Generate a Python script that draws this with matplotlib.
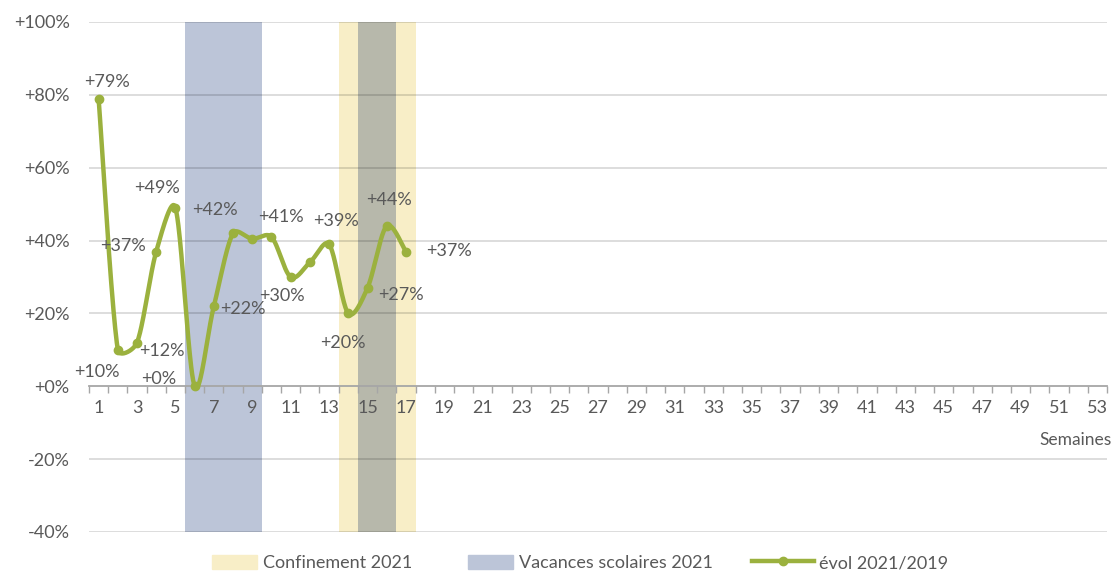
import numpy as np
from matplotlib import pyplot as plt
from matplotlib.patches import Patch, Rectangle
from matplotlib.lines import Line2D
from matplotlib.legend_handler import HandlerPatch

weeks = list(range(1, 54))
evol_weeks = list(range(1, 18))
evol = [79, 10, 12, 37, 49, 0, 22, 42, 40.5, 41, 30, 34, 39, 20, 27, 44, 37]
labelled = [1, 2, 3, 4, 5, 6, 7, 8, 10, 11, 13, 14, 15, 16, 17]
confinement_weeks = [14, 15, 16, 17]
vacances_weeks = [6, 7, 8, 9, 15, 16]
yticks = [-40, -20, 0, 20, 40, 60, 80, 100]

# label offsets (points) per labelled week
offsets = {1: (6, 12), 2: (-15, -16), 3: (18, -6), 4: (-24, 4), 5: (-13, 14),
           6: (-26, 5), 7: (21, -2), 8: (-13, 17), 10: (7, 14), 11: (-6, -14),
           13: (5, 17), 14: (-4, -21), 15: (24, -5), 16: (2, 19), 17: (31, 0)}

plt.rcParams['font.family'] = ['Lato', 'DejaVu Sans']
txt = '#595959'
yellow = '#f8eec7'
blue = '#bcc5d8'
both = '#b7b8ab'
green = '#9bb13e'

fig = plt.figure(figsize=(11.15, 5.73), dpi=100)
ax = fig.add_axes([89 / 1115, 1 - 532 / 573, (1107 - 89) / 1115, (532 - 22) / 573])

for w in sorted(set(confinement_weeks + vacances_weeks)):
    if w in confinement_weeks and w in vacances_weeks:
        c = both
    elif w in confinement_weeks:
        c = yellow
    else:
        c = blue
    ax.bar(w, 140, bottom=-40, width=1.0, color=c, zorder=1, linewidth=0)

for y in yticks:
    if y != 0:
        ax.axhline(y, color='black', alpha=0.15, lw=1.3, zorder=2)

# smoothed line, bezier; tangent length limited by neighbouring segment lengths
sx = 19.2 / 3.65
x = np.array(evol_weeks, dtype=float)
y = np.array(evol, dtype=float)
P = np.column_stack([x * sx, y])
n = len(P)
tang = [P[min(i + 1, n - 1)] - P[max(i - 1, 0)] for i in range(n)]
px, py = [], []
t = np.linspace(0, 1, 40)[:, None]
for i in range(n - 1):
    p1, p2 = P[i], P[i + 1]
    l12 = np.linalg.norm(p2 - p1)
    l01 = np.linalg.norm(p1 - P[i - 1]) if i > 0 else l12
    l23 = np.linalg.norm(P[i + 2] - p2) if i + 2 < n else l12
    f1 = min(1 / 6, l12 / (l01 + l12) / 2.2)
    f2 = min(1 / 6, l12 / (l12 + l23) / 2.2)
    c1 = p1 + tang[i] * f1
    c2 = p2 - tang[i + 1] * f2
    b = (1 - t) ** 3 * p1 + 3 * (1 - t) ** 2 * t * c1 + 3 * (1 - t) * t ** 2 * c2 + t ** 3 * p2
    px.extend(b[:, 0] / sx)
    py.extend(b[:, 1])
ax.plot(px, py, color=green, lw=3.2, zorder=4, solid_capstyle='round')
ax.plot(x, y, 'o', color=green, ms=6, zorder=5)

for w, v in zip(evol_weeks, evol):
    if w in labelled:
        dx, dy = offsets[w]
        ax.annotate('+%d%%' % round(v), (w, v), xytext=(dx, dy), textcoords='offset points',
                    ha='center', va='center', fontsize=13, color=txt, zorder=6)

ax.set_xlim(0.5, 53.5)
ax.set_ylim(-40, 100)
for s in ['top', 'right', 'left']:
    ax.spines[s].set_visible(False)
ax.spines['bottom'].set_position(('data', 0))
ax.spines['bottom'].set_color('#a6a6a6')
ax.spines['bottom'].set_linewidth(1.3)
ax.spines['bottom'].set_zorder(3)

ax.set_xticks(np.arange(0.5, 54, 1))
ax.set_xticklabels([])
ax.tick_params(axis='x', which='major', length=5, color='#a6a6a6', width=1)
ax.set_xticks([w for w in weeks if w % 2 == 1], minor=True)
ax.set_xticklabels([str(w) for w in weeks if w % 2 == 1], minor=True)
ax.tick_params(axis='x', which='minor', length=0, pad=10, labelsize=13, labelcolor=txt)

ax.set_yticks(yticks)
ax.set_yticklabels([('+%d%%' % v) if v >= 0 else ('%d%%' % v) for v in yticks])
ax.tick_params(axis='y', length=0, pad=14, labelsize=13, labelcolor=txt)

fig.text(1112 / 1115, 1 - 440 / 573, 'Semaines', ha='right', va='center', fontsize=12.5, color=txt)


def short_rect(legend, orig_handle, xdescent, ydescent, width, height, fontsize):
    w2 = 32.5
    return Rectangle((width - w2 - xdescent, -ydescent), w2, height)


handles = [Patch(color=yellow, label='Confinement 2021'),
           Patch(color=blue, label='Vacances scolaires 2021'),
           Line2D([0], [0], color=green, lw=3.2, marker='o', ms=6, label='évol 2021/2019')]
fig.legend(handles=handles, loc='center', bbox_to_anchor=(572 / 1115, 1 - 563 / 573), ncol=3,
           frameon=False, fontsize=13, labelcolor=txt, handlelength=3.4, handleheight=0.8,
           columnspacing=2.2, handletextpad=0.3,
           handler_map={Patch: HandlerPatch(patch_func=short_rect)})

fig.savefig('out.png', dpi=100)
